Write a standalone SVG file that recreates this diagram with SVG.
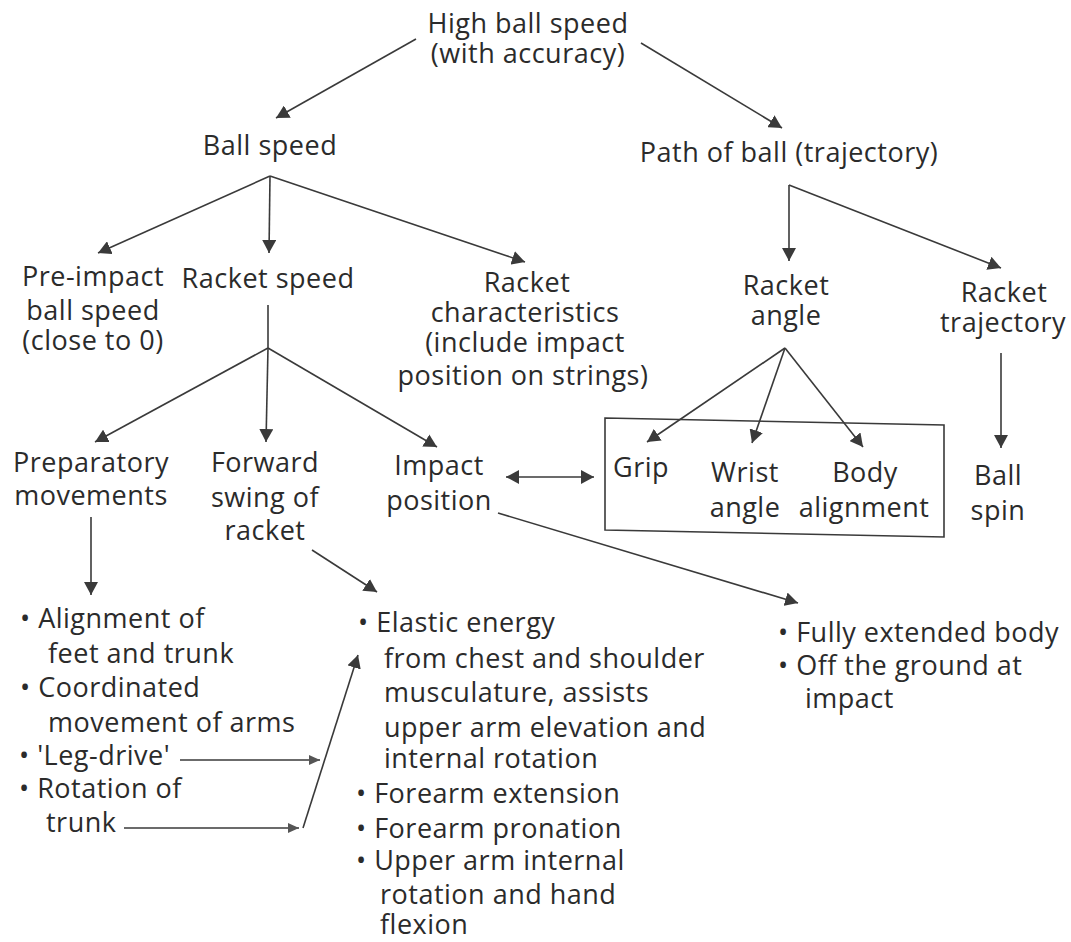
<svg xmlns="http://www.w3.org/2000/svg" width="1071" height="942" viewBox="0 0 1071 942">
<style>
text{font-family:"Open Sans","Noto Sans","Liberation Sans",sans-serif;font-size:27px;fill:#2b2b2b;letter-spacing:0.5px}
.c{text-anchor:middle}
.ln{stroke:#3a3a3a;stroke-width:1.6;fill:none}
.a{marker-end:url(#arr)}
.as{marker-end:url(#arrS)}
.box{fill:none;stroke:#3a3a3a;stroke-width:1.6}
</style>
<defs>
<marker id="arr" viewBox="0 0 13 14" refX="13" refY="7" markerWidth="13" markerHeight="14" markerUnits="userSpaceOnUse" orient="auto-start-reverse">
<path d="M0,0 L13,7 L0,14 Z" fill="#3a3a3a"/>
</marker>
<marker id="arrS" viewBox="0 0 11 10" refX="11" refY="5" markerWidth="11" markerHeight="10" markerUnits="userSpaceOnUse" orient="auto-start-reverse">
<path d="M0,0 L11,5 L0,10 Z" fill="#555"/>
</marker>
</defs>
<rect width="1071" height="942" fill="#ffffff"/>

<g id="connectors">
<path class="ln a" d="M416,39 L276,118"/>
<path class="ln a" d="M641,43 L782,128"/>
<path class="ln a" d="M270,176 L98,253"/>
<path class="ln a" d="M270,176 L269,253"/>
<path class="ln a" d="M270,176 L525,262"/>
<path class="ln a" d="M789,185 L789,261"/>
<path class="ln a" d="M789,185 L1001,268"/>
<path class="ln" d="M268,305 L268,348"/>
<path class="ln a" d="M268,348 L95,442"/>
<path class="ln a" d="M268,348 L266,442"/>
<path class="ln a" d="M268,348 L437,447"/>
<path class="ln a" d="M785,348 L647,442"/>
<path class="ln a" d="M785,348 L752,443"/>
<path class="ln a" d="M785,348 L863,447"/>
<path class="ln a" d="M1001,353 L1001,448"/>
<path class="ln a" d="M506,477 L594,477" marker-start="url(#arr)"/>
<path class="ln a" d="M498,513 L798,603"/>
<path class="ln a" d="M312,550 L377,592"/>
<path class="ln a" d="M91,517 L91,595"/>
<path class="ln as" d="M180,760 L320,760"/>
<path class="ln as" d="M124,828 L299,828"/>
<path class="ln a" d="M303,828 L358,655"/>
</g>

<g id="node-high-ball-speed">
<text class="c" x="528" y="33">High ball speed</text>
<text class="c" x="528" y="63">(with accuracy)</text>
</g>
<g id="node-ball-speed">
<text class="c" x="270" y="155">Ball speed</text>
</g>
<g id="node-path-of-ball">
<text class="c" x="789" y="162">Path of ball (trajectory)</text>
</g>
<g id="node-pre-impact">
<text class="c" x="93" y="286">Pre-impact</text>
<text class="c" x="93" y="320">ball speed</text>
<text class="c" x="93" y="350">(close to 0)</text>
</g>
<g id="node-racket-speed">
<text class="c" x="268" y="288">Racket speed</text>
</g>
<g id="node-racket-characteristics">
<text class="c" x="527" y="292">Racket</text>
<text class="c" x="525" y="322">characteristics</text>
<text class="c" x="525" y="352">(include impact</text>
<text class="c" x="523" y="385">position on strings)</text>
</g>
<g id="node-racket-angle">
<text class="c" x="786" y="295">Racket</text>
<text class="c" x="786" y="325">angle</text>
</g>
<g id="node-racket-trajectory">
<text class="c" x="1004" y="302">Racket</text>
<text class="c" x="1003" y="332">trajectory</text>
</g>
<g id="node-preparatory">
<text class="c" x="91" y="472">Preparatory</text>
<text class="c" x="91" y="505">movements</text>
</g>
<g id="node-forward-swing">
<text class="c" x="265" y="472">Forward</text>
<text class="c" x="265" y="507">swing of</text>
<text class="c" x="265" y="540">racket</text>
</g>
<g id="node-impact-position">
<text class="c" x="439" y="475">Impact</text>
<text class="c" x="439" y="510">position</text>
</g>
<g id="node-box">
<polygon class="box" points="605,418 944,425 944,537 605,530"/>
<text class="c" x="641" y="477">Grip</text>
<text class="c" x="745" y="482">Wrist</text>
<text class="c" x="745" y="517">angle</text>
<text class="c" x="865" y="482">Body</text>
<text class="c" x="864" y="517">alignment</text>
</g>
<g id="node-ball-spin">
<text class="c" x="998" y="485">Ball</text>
<text class="c" x="998" y="520">spin</text>
</g>
<g id="node-prep-list">
<text x="20" y="628">• Alignment of</text>
<text x="48" y="663">feet and trunk</text>
<text x="20" y="697">• Coordinated</text>
<text x="48" y="732">movement of arms</text>
<text x="19" y="765">• 'Leg-drive'</text>
<text x="19" y="798">• Rotation of</text>
<text x="46" y="832">trunk</text>
</g>
<g id="node-swing-list">
<text x="358" y="632">• Elastic energy</text>
<text x="384" y="668">from chest and shoulder</text>
<text x="384" y="702">musculature, assists</text>
<text x="384" y="737">upper arm elevation and</text>
<text x="384" y="768">internal rotation</text>
<text x="356" y="803">• Forearm extension</text>
<text x="356" y="838">• Forearm pronation</text>
<text x="356" y="870">• Upper arm internal</text>
<text x="380" y="904">rotation and hand</text>
<text x="380" y="934">flexion</text>
</g>
<g id="node-impact-list">
<text x="778" y="642">• Fully extended body</text>
<text x="778" y="675">• Off the ground at</text>
<text x="805" y="708">impact</text>
</g>
</svg>
